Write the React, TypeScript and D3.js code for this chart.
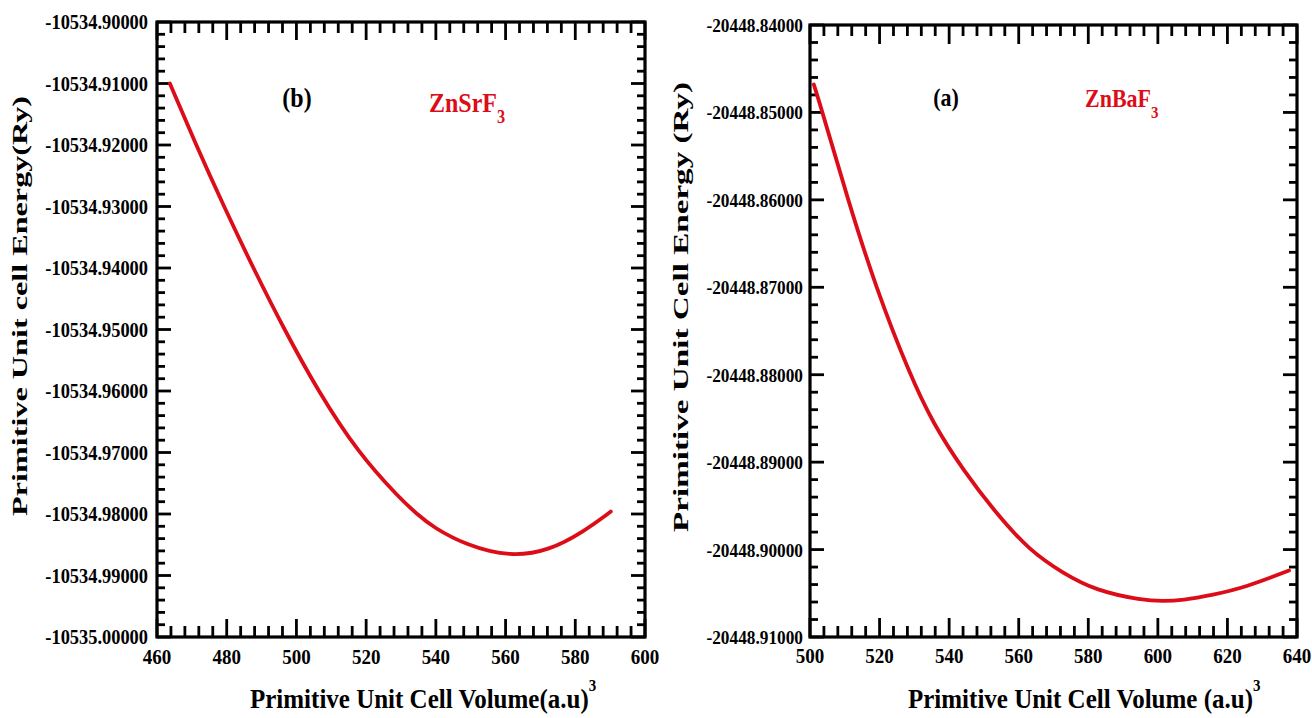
import React from "react";
import * as d3 from "d3";

// ---- Data ----
const leftVolume = [463.7, 471.2, 479.2, 487.6, 496.5, 506.2, 517.6, 529.7, 534.6, 539.3, 548.8, 561.3, 572.7, 582.3, 590.2];
const leftEnergy = [-10534.91, -10534.92, -10534.93, -10534.94, -10534.95, -10534.96, -10534.97, -10534.9775, -10534.98, -10534.9822, -10534.9851, -10534.987, -10534.9859, -10534.9829, -10534.9796];

const rightVolume = [501.1, 503.6, 510.9, 518.9, 528.7, 535.4, 544.0, 553.6, 563.1, 572.7, 582.2, 595.6, 601.4, 607.1, 615.7, 625.3, 637.7];
const rightEnergy = [-20448.8468, -20448.85, -20448.86, -20448.87, -20448.88, -20448.8856, -20448.8909, -20448.8959, -20448.9001, -20448.9027, -20448.9047, -20448.9058, -20448.9059, -20448.9058, -20448.9052, -20448.9043, -20448.9024];

const leftXTicks = [460, 480, 500, 520, 540, 560, 580, 600];
const leftYTicks = [-10534.9, -10534.91, -10534.92, -10534.93, -10534.94, -10534.95, -10534.96, -10534.97, -10534.98, -10534.99, -10535.0];
const rightXTicks = [500, 520, 540, 560, 580, 600, 620, 640];
const rightYTicks = [-20448.84, -20448.85, -20448.86, -20448.87, -20448.88, -20448.89, -20448.9, -20448.91];

const FONT = "'Liberation Serif', 'Times New Roman', Times, serif";
const RED = "#dc0d18";
const SY = 1.12;

type Panel = {
  vol: number[];
  en: number[];
  xTicks: number[];
  yTicks: number[];
  box: [number, number, number, number];
  yLabelSize: number;
  yLabelGap: number;
  xLabelBase: number;
  xTitle: string;
  xTitleX: number;
  yTitle: string;
  yTitleX: number;
  yTitleY: number;
  yTitleLen: number;
  tag: string;
  tagX: number;
  tagY: number;
  comp: string;
  compX: number;
  compY: number;
  annSize: number;
  xMajor: number;
  xMinor: number;
  yMajor: number;
  yMinor: number;
};

const panels: Panel[] = [
  {
    vol: leftVolume, en: leftEnergy, xTicks: leftXTicks, yTicks: leftYTicks,
    box: [157, 22, 645, 637], yLabelSize: 18.4, yLabelGap: 9, xLabelBase: 664,
    xTitle: "Primitive Unit Cell Volume(a.u)", xTitleX: 250,
    yTitle: "Primitive Unit cell Energy(Ry)", yTitleX: 27, yTitleY: 306, yTitleLen: 420,
    tag: "(b)", tagX: 297, tagY: 107, comp: "ZnSrF", compX: 429, compY: 112, annSize: 24,
    xMajor: 18, xMinor: 11, yMajor: 14, yMinor: 8,
  },
  {
    vol: rightVolume, en: rightEnergy, xTicks: rightXTicks, yTicks: rightYTicks,
    box: [810, 25, 1297, 637], yLabelSize: 17.3, yLabelGap: 7, xLabelBase: 663,
    xTitle: "Primitive Unit Cell Volume (a.u)", xTitleX: 908,
    yTitle: "Primitive Unit Cell Energy (Ry)", yTitleX: 688, yTitleY: 307, yTitleLen: 450,
    tag: "(a)", tagX: 946, tagY: 106, comp: "ZnBaF", compX: 1085, compY: 107, annSize: 22,
    xMajor: 19, xMinor: 11, yMajor: 14, yMinor: 8,
  },
];

function T(props: { x: number; y: number; size: number; anchor?: string; fill?: string; children: React.ReactNode; sy?: number }) {
  const { x, y, size, anchor = "start", fill = "#000", children, sy = SY } = props;
  return (
    <text
      transform={`translate(${x},${y}) scale(1,${sy})`}
      fontSize={size}
      textAnchor={anchor}
      fontFamily={FONT}
      fontWeight="bold"
      fill={fill}
    >
      {children}
    </text>
  );
}

function PanelView({ p }: { p: Panel }) {
  const [l, t, r, b] = p.box;
  const x = d3.scaleLinear().domain([p.xTicks[0], p.xTicks[p.xTicks.length - 1]]).range([l, r]);
  const yMin = d3.min(p.yTicks) as number;
  const yMax = d3.max(p.yTicks) as number;
  const y = d3.scaleLinear().domain([yMin, yMax]).range([b, t]);
  const line = d3
    .line<number>()
    .x((_, i) => x(p.vol[i]))
    .y((d) => y(d))
    .curve(d3.curveBasis);

  const xStep = p.xTicks[1] - p.xTicks[0];
  const xMinorTicks: number[] = [];
  for (let i = 0; i < p.xTicks.length - 1; i++) {
    for (let k = 1; k < 5; k++) xMinorTicks.push(p.xTicks[i] + (xStep * k) / 5);
  }
  const ySorted = [...p.yTicks].sort((a, c) => a - c);
  const yMinorTicks: number[] = [];
  for (let i = 0; i < ySorted.length - 1; i++) {
    const s = ySorted[i + 1] - ySorted[i];
    for (let k = 1; k < 5; k++) yMinorTicks.push(ySorted[i] + (s * k) / 5);
  }

  const tickStroke = 2.8;
  return (
    <g>
      {p.xTicks.map((v) => (
        <g key={"xM" + v}>
          <line x1={x(v)} x2={x(v)} y1={b} y2={b - p.xMajor} stroke="#000" strokeWidth={tickStroke} />
          <line x1={x(v)} x2={x(v)} y1={t} y2={t + p.xMajor} stroke="#000" strokeWidth={tickStroke} />
        </g>
      ))}
      {xMinorTicks.map((v) => (
        <g key={"xm" + v}>
          <line x1={x(v)} x2={x(v)} y1={b} y2={b - p.xMinor} stroke="#000" strokeWidth={tickStroke} />
          <line x1={x(v)} x2={x(v)} y1={t} y2={t + p.xMinor} stroke="#000" strokeWidth={tickStroke} />
        </g>
      ))}
      {p.yTicks.map((v) => (
        <g key={"yM" + v}>
          <line x1={l} x2={l + p.yMajor} y1={y(v)} y2={y(v)} stroke="#000" strokeWidth={tickStroke} />
          <line x1={r} x2={r - p.yMajor} y1={y(v)} y2={y(v)} stroke="#000" strokeWidth={tickStroke} />
        </g>
      ))}
      {yMinorTicks.map((v, i) => (
        <g key={"ym" + i}>
          <line x1={l} x2={l + p.yMinor} y1={y(v)} y2={y(v)} stroke="#000" strokeWidth={tickStroke} />
          <line x1={r} x2={r - p.yMinor} y1={y(v)} y2={y(v)} stroke="#000" strokeWidth={tickStroke} />
        </g>
      ))}
      <rect x={l} y={t} width={r - l} height={b - t} fill="none" stroke="#000" strokeWidth={3.2} />
      <path d={line(p.en) || ""} fill="none" stroke={RED} strokeWidth={3.8} strokeLinejoin="round" strokeLinecap="round" />
      {p.yTicks.map((v) => (
        <T key={"yl" + v} x={l - p.yLabelGap} y={y(v) + 7} size={p.yLabelSize} anchor="end">
          {v.toFixed(5)}
        </T>
      ))}
      {p.xTicks.map((v) => (
        <T key={"xl" + v} x={x(v)} y={p.xLabelBase} size={19} anchor="middle">
          {String(v)}
        </T>
      ))}
      <T x={p.xTitleX} y={708} size={25}>
        {p.xTitle}
        <tspan dy={-15} fontSize={15}>3</tspan>
      </T>
      <text
        transform={`translate(${p.yTitleX},${p.yTitleY}) rotate(-90)`}
        fontSize={21}
        textAnchor="middle"
        fontFamily={FONT}
        fontWeight="bold"
        textLength={p.yTitleLen}
        lengthAdjust="spacingAndGlyphs"
      >
        {p.yTitle}
      </text>
      <T x={p.tagX} y={p.tagY} size={p.annSize} anchor="middle">
        {p.tag}
      </T>
      <T x={p.compX} y={p.compY} size={p.annSize} fill={RED}>
        {p.comp}
        <tspan dy={10} fontSize={p.annSize * 0.68}>3</tspan>
      </T>
    </g>
  );
}

export default function App() {
  return (
    <svg
      width={1312}
      height={718}
      viewBox="0 0 1312 718"
      style={{ position: "absolute", left: 0, top: 0, background: "#fff" }}
    >
      <rect x={0} y={0} width={1312} height={718} fill="#fff" />
      {panels.map((p, i) => (
        <PanelView key={i} p={p} />
      ))}
    </svg>
  );
}
